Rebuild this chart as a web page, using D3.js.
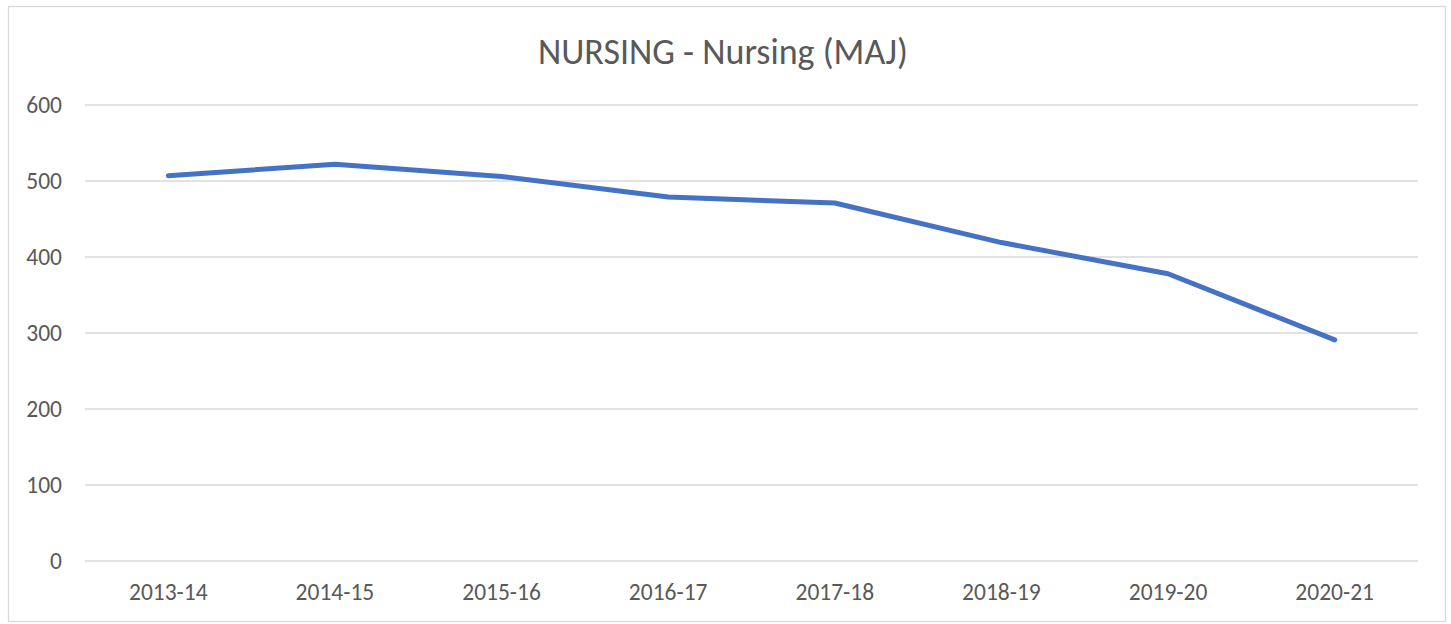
<!DOCTYPE html>
<html>
<head>
<meta charset="utf-8">
<script src="https://cdn.jsdelivr.net/npm/d3@7"></script>
<style>
  body { margin: 0; background: #fff; }
  svg text { font-family: Calibri, Carlito, "Open Sans", "Liberation Sans", sans-serif; fill: #595959; }
</style>
</head>
<body>
<div id="chart"></div>
<script>
// chart values
var title = 'NURSING - Nursing (MAJ)'
var years = ['2013-14', '2014-15', '2015-16', '2016-17', '2017-18', '2018-19', '2019-20', '2020-21']
var counts = [507, 522, 506, 479, 471, 419, 378, 291]
var yTicks = [0, 100, 200, 300, 400, 500, 600]

var width = 1451
var height = 624
var plot = { left: 85, right: 1418, top: 105, bottom: 561 }

var svg = d3.select('#chart').append('svg')
  .attr('width', width)
  .attr('height', height)

// outer frame
svg.append('rect')
  .attr('x', 8.5).attr('y', 6.5)
  .attr('width', 1437).attr('height', 615)
  .attr('fill', '#fff')
  .attr('stroke', '#d9d9d9')
  .attr('stroke-width', 1.3)

var x = d3.scaleBand().domain(years).range([plot.left, plot.right])
var y = d3.scaleLinear().domain([0, 600]).range([plot.bottom, plot.top])

// gridlines
svg.append('g')
  .selectAll('line')
  .data(yTicks)
  .join('line')
  .attr('x1', plot.left).attr('x2', plot.right)
  .attr('y1', function(d) { return y(d) }).attr('y2', function(d) { return y(d) })
  .attr('stroke', '#d9d9d9')
  .attr('stroke-width', 1.3)

// y labels
svg.append('g')
  .selectAll('text')
  .data(yTicks)
  .join('text')
  .attr('x', 62)
  .attr('y', function(d) { return y(d) })
  .attr('dy', '0.35em')
  .attr('text-anchor', 'end')
  .style('font-size', '23.5px')
  .text(function(d) { return d })

// x labels
svg.append('g')
  .selectAll('text')
  .data(years)
  .join('text')
  .attr('x', function(d) { return x(d) + x.bandwidth() / 2 })
  .attr('y', 592)
  .attr('dy', '0.35em')
  .attr('text-anchor', 'middle')
  .style('font-size', '23.5px')
  .text(function(d) { return d })

// title
svg.append('text')
  .attr('x', 723)
  .attr('y', 51)
  .attr('dy', '0.35em')
  .attr('text-anchor', 'middle')
  .style('font-size', '36px')
  .text(title)

// the line
var line = d3.line()
  .x(function(d, i) { return x(years[i]) + x.bandwidth() / 2 })
  .y(function(d) { return y(d) })

svg.append('path')
  .datum(counts)
  .attr('d', line)
  .attr('fill', 'none')
  .attr('stroke', '#4472c4')
  .attr('stroke-width', 5)
  .attr('stroke-linecap', 'round')
  .attr('stroke-linejoin', 'round')
</script>
</body>
</html>
